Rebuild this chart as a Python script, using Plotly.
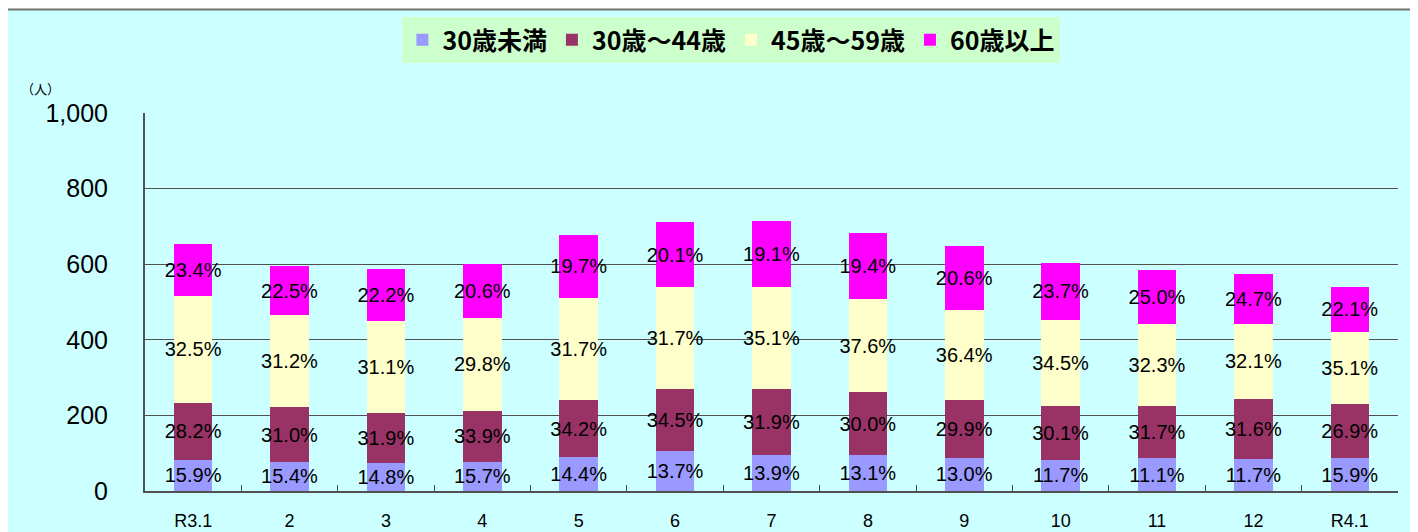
import plotly.graph_objects as go

categories = ["R3.1", "2", "3", "4", "5", "6", "7", "8", "9", "10", "11", "12", "R4.1"]

series_names = ["30歳未満", "30歳～44歳", "45歳～59歳", "60歳以上"]
u30 = [83, 77, 75, 78, 89, 105, 94, 94, 88, 83, 86, 85, 86]
a30_44 = [151, 144, 131, 134, 152, 164, 177, 167, 152, 143, 139, 159, 145]
a45_59 = [282, 244, 244, 247, 270, 270, 268, 246, 240, 227, 217, 199, 190]
o60 = [138, 130, 137, 142, 167, 172, 175, 176, 169, 150, 143, 130, 120]

u30_pct = ["15.9%", "15.4%", "14.8%", "15.7%", "14.4%", "13.7%", "13.9%", "13.1%", "13.0%", "11.7%", "11.1%", "11.7%", "15.9%"]
a30_44_pct = ["28.2%", "31.0%", "31.9%", "33.9%", "34.2%", "34.5%", "31.9%", "30.0%", "29.9%", "30.1%", "31.7%", "31.6%", "26.9%"]
a45_59_pct = ["32.5%", "31.2%", "31.1%", "29.8%", "31.7%", "31.7%", "35.1%", "37.6%", "36.4%", "34.5%", "32.3%", "32.1%", "35.1%"]
o60_pct = ["23.4%", "22.5%", "22.2%", "20.6%", "19.7%", "20.1%", "19.1%", "19.4%", "20.6%", "23.7%", "25.0%", "24.7%", "22.1%"]

y_ticks = [0, 200, 400, 600, 800, 1000]
y_tick_labels = ["0", "200", "400", "600", "800", "1,000"]

colors = ["#9999FF", "#993366", "#FFFFCC", "#FF00FF"]
values = [u30, a30_44, a45_59, o60]
labels = [u30_pct, a30_44_pct, a45_59_pct, o60_pct]

fig = go.Figure()
for name, vals, txt, col in zip(series_names, values, labels, colors):
    fig.add_trace(go.Bar(
        x=categories, y=vals, name=name,
        marker=dict(color=col, line=dict(width=0)),
        text=txt, textposition="inside", insidetextanchor="middle",
        textangle=0, constraintext="none",
        textfont=dict(family="Liberation Sans", size=20, color="black"),
        hoverinfo="skip",
    ))

# outer cyan panel with gray border
fig.add_shape(type="rect", xref="paper", yref="paper",
              x0=-0.1109, x1=1.0112, y0=-0.3, y1=1.2738,
              fillcolor="#CCFFFF", line=dict(color="#707070", width=2),
              layer="below")

fig.add_annotation(xref="paper", yref="paper", x=-0.0836, y=1.066,
                   text="（人）", showarrow=False, xanchor="center", yanchor="middle",
                   font=dict(family="Noto Sans CJK JP", size=13, color="black"))

fig.update_layout(
    width=1418, height=532,
    margin=dict(l=137, r=28, t=105, b=49, autoexpand=False),
    paper_bgcolor="white",
    plot_bgcolor="rgba(0,0,0,0)",
    barmode="stack",
    bargap=0.6,
    showlegend=True,
    legend=dict(
        orientation="h", x=0.468, xanchor="center", y=1.193, yanchor="middle",
        bgcolor="#CCFFCC", traceorder="normal",
        font=dict(family="Noto Sans CJK JP", size=25, color="black", weight="bold"),
        itemclick=False, itemdoubleclick=False,
    ),
    xaxis=dict(
        type="category", showgrid=False, showline=True, linecolor="#505050", linewidth=2,
        ticks="inside", ticklen=6, tickcolor="#505050", tickwidth=1,
        tickson="boundaries",
        tickfont=dict(family="Liberation Sans", size=18, color="black"),
        ticklabelstandoff=12,
    ),
    yaxis=dict(
        range=[0, 1000], tickvals=y_ticks, ticktext=y_tick_labels,
        showgrid=True, gridcolor="#505050", gridwidth=1,
        showline=True, linecolor="#505050", linewidth=2,
        ticks="", zeroline=False,
        tickfont=dict(family="Liberation Sans", size=25, color="black"),
        ticklabelstandoff=30,
    ),
)

fig.write_html("out.html")
